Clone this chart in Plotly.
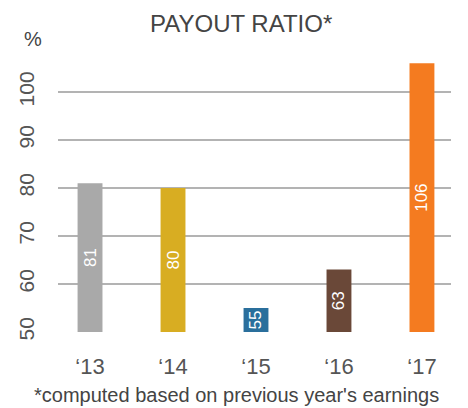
import plotly.graph_objects as go

# Payout ratio by year (%)
years = ["\u201813", "\u201814", "\u201815", "\u201816", "\u201817"]
payout = [81, 80, 55, 63, 106]
bar_colors = ["#a9a9a9", "#d8ad22", "#2a6f9c", "#6a4838", "#f47b20"]
y_ticks = [50, 60, 70, 80, 90, 100]
baseline = 50

W, H = 468, 408
pl, pr, pt, pb = 58, 17, 55, 76
pw, ph = W - pl - pr, H - pt - pb


def px_x(x):
    return (x - pl) / pw


def px_y(y):
    return 1 - (y - pt) / ph


fig = go.Figure(
    go.Bar(
        x=list(range(len(years))),
        y=[v - baseline for v in payout],
        base=baseline,
        width=0.3,
        marker=dict(color=bar_colors, line=dict(width=0)),
        text=[str(v) for v in payout],
        textposition="inside",
        insidetextanchor="middle",
        textangle=-90,
        textfont=dict(color="white", size=17, family="Liberation Sans"),
        constraintext="none",
    )
)

fig.update_layout(
    width=W,
    height=H,
    margin=dict(l=pl, r=pr, t=pt, b=pb),
    paper_bgcolor="white",
    plot_bgcolor="white",
    showlegend=False,
    font=dict(family="Liberation Sans", color="#555555"),
    xaxis=dict(
        range=[-0.386, 4.35],
        tickmode="array",
        tickvals=list(range(len(years))),
        ticktext=years,
        tickfont=dict(size=22, color="#555555"),
        showgrid=False,
        zeroline=False,
        showline=False,
        ticks="",
        ticklabelstandoff=19,
    ),
    yaxis=dict(
        range=[50, 50 + ph / 4.8],
        tickvals=y_ticks,
        tickangle=-90,
        tickfont=dict(size=21, color="#555555"),
        showgrid=True,
        gridcolor="#b3b3b3",
        gridwidth=2,
        zeroline=False,
        showline=False,
        ticks="",
        ticklabelstandoff=19,
    ),
    annotations=[
        dict(text="PAYOUT RATIO*", x=px_x(241), xref="paper", xanchor="center",
             y=px_y(24), yref="paper", yanchor="middle", showarrow=False,
             font=dict(size=24, color="#444444")),
        dict(text="%", x=px_x(33), xref="paper", xanchor="center",
             y=px_y(39), yref="paper", yanchor="middle", showarrow=False,
             font=dict(size=20, color="#444444")),
        dict(text="*computed based on previous year's earnings", x=px_x(236),
             xref="paper", xanchor="center", y=px_y(395), yref="paper",
             yanchor="middle", showarrow=False,
             font=dict(size=20, color="#444444")),
    ],
)

fig.write_html("out.html")
